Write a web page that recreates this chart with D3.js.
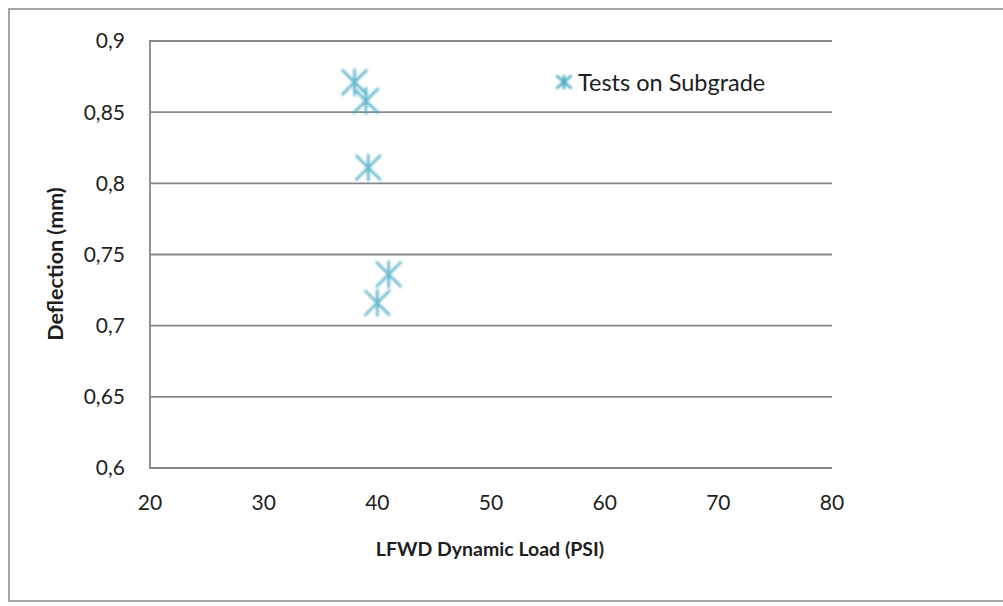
<!DOCTYPE html>
<html><head><meta charset="utf-8">
<script src="https://cdn.jsdelivr.net/npm/d3@7"></script>
<style>body{margin:0;background:#fff}svg{display:block}text{font-family:Lato,"Open Sans",sans-serif;fill:#1e1e1e}</style>
</head><body>
<svg id="c" width="1003" height="606"></svg>
<script>
const loads = [38.0, 39.0, 39.2, 41.0, 40.0];
const deflections = [0.871, 0.858, 0.811, 0.736, 0.716];
const seriesName = "Tests on Subgrade";
const xTicks = [20, 30, 40, 50, 60, 70, 80];
const yTicks = [0.6, 0.65, 0.7, 0.75, 0.8, 0.85, 0.9];
const xTitle = "LFWD Dynamic Load (PSI)";
const yTitle = "Deflection (mm)";

const svg = d3.select("#c");
const color = "#4bacc6";
svg.append("rect").attr("x",9).attr("y",9).attr("width",1003).attr("height",592)
  .attr("fill","#fff").attr("stroke","#a6a6a6").attr("stroke-width",2);

const x = d3.scaleLinear().domain([20,80]).range([150,832]);
const y = d3.scaleLinear().domain([0.6,0.9]).range([468,41]);

svg.append("g").selectAll("line").data(yTicks).join("line")
  .attr("x1",150).attr("x2",832).attr("y1",d=>y(d)).attr("y2",d=>y(d))
  .attr("stroke","#888").attr("stroke-width",1.8);
svg.append("line").attr("x1",150).attr("x2",150).attr("y1",y(0.9)-0.9).attr("y2",y(0.6)+0.9)
  .attr("stroke","#888").attr("stroke-width",1.8);

const fmt = d => String(d).replace(".", ",");
svg.append("g").selectAll("text").data(yTicks).join("text")
  .attr("x",125).attr("y",d=>y(d)).attr("dy","0.35em").attr("text-anchor","end")
  .attr("font-size",21).text(fmt);
svg.append("g").selectAll("text").data(xTicks).join("text")
  .attr("x",d=>x(d)).attr("y",503).attr("dy","0.35em").attr("text-anchor","middle")
  .attr("font-size",21).text(d=>d);

svg.append("text").attr("x",490).attr("y",549).attr("dy","0.35em").attr("text-anchor","middle")
  .attr("font-size",19.5).attr("font-weight","bold").text(xTitle);
svg.append("text").attr("transform","translate(55,264) rotate(-90)").attr("dy","0.35em")
  .attr("text-anchor","middle").attr("font-size",21.5).attr("font-weight","bold").text(yTitle);

function star(g, cx, cy, rx, ry, sw){
  const s = g.append("g").attr("transform",`translate(${cx},${cy})`)
    .attr("stroke",color).attr("stroke-width",sw).attr("stroke-linecap","round");
  s.append("line").attr("x1",-rx).attr("y1",-ry).attr("x2",rx).attr("y2",ry);
  s.append("line").attr("x1",-rx).attr("y1",ry).attr("x2",rx).attr("y2",-ry);
  s.append("line").attr("x1",0).attr("y1",-ry*1.05).attr("x2",0).attr("y2",ry*1.05);
}
const defs = svg.append("defs");
defs.append("filter").attr("id","blur").append("feGaussianBlur").attr("stdDeviation",0.9);
const pts = svg.append("g").attr("filter","url(#blur)").attr("opacity",0.85);
loads.forEach((v,i)=>star(pts, x(v), y(deflections[i]), 12, 12, 2.6));

const lgm = svg.append("g").attr("filter","url(#blur)");
star(lgm, 564, 82, 7, 6, 2.4);
svg.append("text").attr("x",578).attr("y",83).attr("dy","0.35em").attr("font-size",23.5).text(seriesName);
</script>
</body></html>
